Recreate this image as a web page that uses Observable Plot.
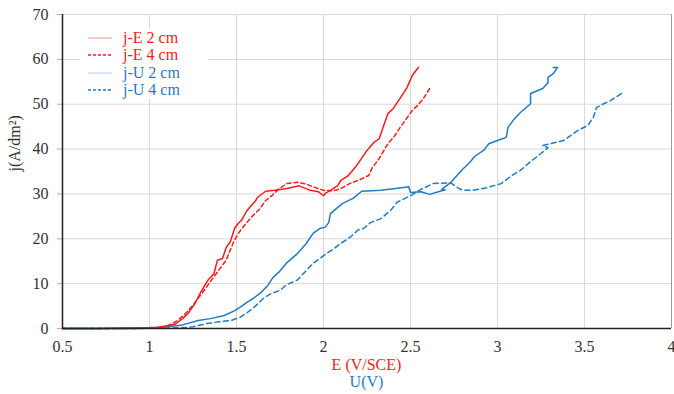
<!DOCTYPE html>
<html>
<head>
<meta charset="utf-8">
<script src="https://cdn.jsdelivr.net/npm/d3@7"></script>
<script src="https://cdn.jsdelivr.net/npm/@observablehq/plot@0.6"></script>
<style>
  body { margin: 0; background: #fff; font-family: "Liberation Serif", "Times New Roman", Times, "DejaVu Serif", serif; }
  #wrap { position: relative; width: 674px; height: 394px; }
  #legend { position: absolute; left: 80px; top: 29px; width: 128px; height: 70px; background: #fff; }
  .row { position: absolute; left: 0; height: 18px; line-height: 18px; font-size: 16px; white-space: nowrap; }
  .row svg { position: absolute; left: 8px; top: 4px; }
  .row span { position: absolute; left: 43px; top: 0; }
  .xt { position: absolute; left: 0; width: 733px; text-align: center; font-size: 16px; }
  svg text { font-family: "Liberation Serif", "Times New Roman", Times, "DejaVu Serif", serif; }
</style>
</head>
<body>
<div id="wrap">
  <div id="chart"></div>
  <div id="legend"></div>
  <div class="xt" style="top:356px;color:#ff1a1a;">E (V/SCE)</div>
  <div class="xt" style="top:373px;color:#1f7bc6;">U(V)</div>
</div>
<script>
// ---- data ----
const xTicks = [0.5, 1, 1.5, 2, 2.5, 3, 3.5, 4];
const yTicks = [0, 10, 20, 30, 40, 50, 60, 70];

const seriesNames = ["j-E 2 cm", "j-E 4 cm", "j-U 2 cm", "j-U 4 cm"];

const vE2 = [0.5, 0.7, 0.9, 1.0, 1.05, 1.1, 1.15, 1.19, 1.22, 1.26, 1.29, 1.32, 1.34, 1.37, 1.39, 1.42, 1.44, 1.465, 1.49, 1.51, 1.53, 1.56, 1.61, 1.62, 1.667, 1.72, 1.79, 1.86, 1.925, 1.97, 2.0, 2.01, 2.04, 2.08, 2.10, 2.14, 2.19, 2.25, 2.29, 2.32, 2.34, 2.37, 2.40, 2.44, 2.48, 2.51, 2.545];
const jE2 = [0, 0, 0.1, 0.2, 0.3, 0.6, 1.0, 2.2, 3.3, 5.5, 7.8, 9.8, 11, 12.2, 15.2, 15.6, 18, 19.4, 22.4, 23.4, 24.2, 26.3, 28.5, 29.2, 30.6, 30.8, 31.2, 31.8, 30.8, 30.5, 29.6, 30.1, 30.8, 31.8, 33, 34, 36.3, 39.7, 41.5, 42.3, 44.6, 47.9, 49, 51.3, 53.7, 56.4, 58.2];

const vE4 = [0.5, 0.7, 0.9, 1.0, 1.05, 1.1, 1.15, 1.2, 1.25, 1.31, 1.36, 1.41, 1.44, 1.48, 1.51, 1.55, 1.59, 1.63, 1.667, 1.70, 1.74, 1.79, 1.85, 1.90, 1.94, 2.0, 2.06, 2.10, 2.15, 2.21, 2.26, 2.28, 2.32, 2.37, 2.41, 2.44, 2.47, 2.51, 2.54, 2.575, 2.61];
const jE4 = [0, 0, 0, 0.1, 0.2, 0.5, 1.5, 3.0, 5.2, 8.3, 11, 13.6, 15.2, 19.0, 21.2, 23.2, 25, 26.5, 28.5, 29.5, 31, 32.3, 32.6, 32.2, 31.6, 30.8, 30.7, 31.2, 32.3, 33.2, 34.1, 35.8, 37.9, 41.2, 43, 44.8, 46.4, 48.6, 49.7, 51.3, 53.5];

const vU2 = [0.5, 0.7, 0.9, 1.0, 1.1, 1.18, 1.28, 1.35, 1.43, 1.49, 1.53, 1.56, 1.6, 1.64, 1.68, 1.71, 1.75, 1.79, 1.85, 1.9, 1.94, 1.98, 2.01, 2.03, 2.04, 2.07, 2.11, 2.17, 2.22, 2.33, 2.45, 2.49, 2.50, 2.56, 2.61, 2.66, 2.70, 2.68, 2.73, 2.77, 2.80, 2.84, 2.87, 2.92, 2.95, 3.0, 3.05, 3.06, 3.09, 3.13, 3.19, 3.19, 3.26, 3.29, 3.29, 3.32, 3.345, 3.32];
const jU2 = [0, 0, 0.05, 0.1, 0.4, 0.7, 1.8, 2.2, 2.9, 4.0, 5.0, 5.8, 6.8, 8.0, 9.6, 11.4, 12.8, 14.7, 16.7, 18.9, 21.2, 22.3, 22.6, 23.6, 25.6, 26.6, 27.9, 29, 30.6, 30.8, 31.4, 31.6, 30.3, 30.5, 29.9, 30.5, 30.9, 31.0, 32.5, 34.2, 35.5, 37, 38.4, 39.7, 41.2, 41.9, 42.6, 44.8, 46.4, 48.1, 50.1, 52.4, 53.5, 54.8, 56, 56.8, 58.2, 58.2];

const vU4 = [0.5, 0.7, 0.9, 1.0, 1.1, 1.2, 1.25, 1.33, 1.40, 1.47, 1.52, 1.56, 1.60, 1.66, 1.70, 1.75, 1.79, 1.85, 1.91, 1.94, 2.02, 2.06, 2.10, 2.155, 2.20, 2.23, 2.27, 2.33, 2.36, 2.385, 2.425, 2.50, 2.56, 2.63, 2.73, 2.77, 2.80, 2.86, 2.94, 3.02, 3.09, 3.13, 3.19, 3.22, 3.29, 3.26, 3.38, 3.46, 3.52, 3.55, 3.57, 3.61, 3.65, 3.72];
const jU4 = [0, 0, 0, 0.05, 0.1, 0.2, 0.4, 1.1, 1.5, 1.8, 2.5, 3.5, 4.7, 6.9, 7.8, 8.5, 9.8, 10.8, 13.3, 14.5, 16.8, 17.8, 19, 20.4, 22, 22.3, 23.6, 24.5, 25.5, 26.3, 28.2, 29.6, 31, 32.3, 32.5, 31.4, 30.8, 30.8, 31.4, 32.3, 34.3, 35.2, 37.2, 38.1, 40.3, 40.8, 41.9, 44.1, 45.3, 47, 49.3, 50.1, 50.8, 52.6];

// ---- build ----
const RED = "#ff1a1a", BLUE = "#1f7bc6";
const FONT = "'Liberation Serif', 'Times New Roman', Times, 'DejaVu Serif', serif";
const toRows = (vs, js) => vs.map((v, i) => ({V: v, j: js[i]}));
const E2 = toRows(vE2, jE2), E4 = toRows(vE4, jE4), U2 = toRows(vU2, jU2), U4 = toRows(vU4, jU4);

const chart = Plot.plot({
  width: 674,
  height: 358,
  marginLeft: 62,
  marginRight: 3,
  marginTop: 14,
  marginBottom: 30,
  style: {fontFamily: FONT, fontSize: "16px", color: "#333", background: "#fff", overflow: "visible"},
  x: {domain: [0.5, 4]},
  y: {domain: [0, 70]},
  marks: [
    Plot.gridX(xTicks, {stroke: "#d9d9d9", strokeOpacity: 1}),
    Plot.gridY(yTicks, {stroke: "#d9d9d9", strokeOpacity: 1}),
    Plot.ruleX([4], {stroke: "#9a9a9a"}),
    Plot.axisX({ticks: xTicks, tickFormat: d => String(d), tickSize: 0, tickPadding: 12, label: null, fontSize: 16}),
    Plot.axisY({ticks: yTicks, tickSize: 5, tickPadding: 9, stroke: "#b0b0b0", label: null, fontSize: 16}),
    Plot.line(U4, {x: "V", y: "j", stroke: BLUE, strokeWidth: 1.5, strokeDasharray: "5,3.5", curve: "linear"}),
    Plot.line(U2, {x: "V", y: "j", stroke: BLUE, strokeWidth: 1.5, curve: "linear"}),
    Plot.line(E4, {x: "V", y: "j", stroke: RED, strokeWidth: 1.5, strokeDasharray: "4,3", curve: "linear"}),
    Plot.line(E2, {x: "V", y: "j", stroke: RED, strokeWidth: 1.5, curve: "linear"}),
    Plot.ruleX([0.5], {stroke: "#222", strokeWidth: 1.5}),
    Plot.ruleY([0], {stroke: "#222", strokeWidth: 1.5}),
    Plot.text(["j(A/dm²)"], {frameAnchor: "left", dx: -48, rotate: -90, fontSize: 16, fill: "#333"})
  ]
});
document.getElementById("chart").appendChild(chart);

// legend
const legendItems = [
  {name: seriesNames[0], color: RED, swatch: "#ffb8b8", dash: null},
  {name: seriesNames[1], color: RED, swatch: RED, dash: "3,2"},
  {name: seriesNames[2], color: BLUE, swatch: "#cfe1f1", dash: null},
  {name: seriesNames[3], color: BLUE, swatch: BLUE, dash: "3,2"}
];
const tops = [0, 17, 35, 52];
const leg = document.getElementById("legend");
legendItems.forEach((it, i) => {
  const row = document.createElement("div");
  row.className = "row";
  row.style.top = tops[i] + "px";
  row.innerHTML = `<svg width="26" height="10"><line x1="0" x2="24" y1="5" y2="5" stroke="${it.swatch}" stroke-width="1.5" ${it.dash ? `stroke-dasharray="${it.dash}"` : ""}/></svg><span style="color:${it.color}">${it.name}</span>`;
  leg.appendChild(row);
});
</script>
</body>
</html>
